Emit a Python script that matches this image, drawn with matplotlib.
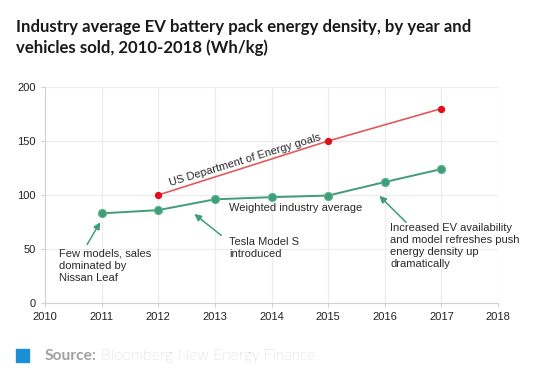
import matplotlib
matplotlib.use('Agg')
import matplotlib.pyplot as plt
from matplotlib.patches import Rectangle

# data
avg_years = [2011, 2012, 2013, 2014, 2015, 2016, 2017]
avg_vals = [83, 86, 96, 98, 99.5, 112, 124]
goal_years = [2012, 2015, 2017]
goal_vals = [100, 150, 180]
xticks = list(range(2010, 2019))
yticks = [0, 50, 100, 150, 200]

green = '#3f9d78'
red_line = '#e35a5a'
red_pt = '#e00f1a'
grid_c = '#ececec'

plt.rcParams['font.family'] = ['Liberation Sans', 'DejaVu Sans']

fig = plt.figure(figsize=(5.5, 3.85), dpi=100)
ax = fig.add_axes([0.0818, 0.213, 0.8237, 0.561])

ax.plot(goal_years, goal_vals, color=red_line, lw=1.2, zorder=3)
ax.scatter(goal_years, goal_vals, s=18, color=red_pt, zorder=4)
ax.plot(avg_years, avg_vals, color=green, lw=1.4, zorder=3)
ax.scatter(avg_years, avg_vals, s=34, color=green, edgecolor='#5fb594', lw=0.8, zorder=4)

ax.set_xlim(2010, 2018)
ax.set_ylim(0, 200)
ax.set_xticks(xticks)
ax.set_yticks(yticks)
ax.grid(True, color=grid_c, lw=0.8)
ax.set_axisbelow(True)
for s in ['top', 'right']:
    ax.spines[s].set_visible(False)
for s in ['left', 'bottom']:
    ax.spines[s].set_color('#d0d0d0')
ax.tick_params(colors='#d0d0d0', labelcolor='#222222', labelsize=8, length=3)

tc = '#2a2a2a'
ax.text(2012.22, 108, 'US Department of Energy goals', rotation=17, fontsize=8,
        color=tc, rotation_mode='anchor', ha='left', va='baseline')
ax.text(2013.25, 88, 'Weighted industry average', fontsize=8, color=tc, va='center')

arrow = dict(arrowstyle='-|>', color=green, lw=1.1, mutation_scale=10)
ax.text(2010.25, 50, 'Few models, sales\ndominated by\nNissan Leaf',
        fontsize=8, color=tc, va='top', ha='left', linespacing=1.25)
ax.annotate('', xy=(2011.0, 77), xytext=(2010.72, 52), arrowprops=arrow)
ax.text(2013.25, 61, 'Tesla Model S\nintroduced', fontsize=8, color=tc, va='top', linespacing=1.25)
ax.annotate('', xy=(2012.6, 84), xytext=(2013.15, 61), arrowprops=arrow)
ax.text(2016.1, 74, 'Increased EV availability\nand model refreshes push\nenergy density up\ndramatically',
        fontsize=8, color=tc, va='top', linespacing=1.25)
ax.annotate('', xy=(2015.87, 101), xytext=(2016.41, 73), arrowprops=arrow)

fig.text(16 / 550, 1 - 19 / 385,
         'Industry average EV battery pack energy density, by year and\nvehicles sold, 2010-2018 (Wh/kg)',
         fontsize=12.1, fontweight='bold', family=['Lato', 'DejaVu Sans'], color='#1a1a1a',
         va='top', linespacing=1.35)

fig.add_artist(Rectangle((16 / 550, 1 - 362 / 385), 13 / 550, 13 / 385,
                         transform=fig.transFigure, color='#1a8fd6'))
fig.text(45 / 550, 1 - 356 / 385, 'Source:', fontsize=11.2, fontweight='bold',
         family=['Lato', 'DejaVu Sans'], color='#a0a0a0', va='center')
fig.text(101 / 550, 1 - 356 / 385, 'Bloomberg New Energy Finance', fontsize=11.2,
         fontweight='light', family=['Lato', 'DejaVu Sans'], color='#aaaaaa', va='center')

fig.savefig('out.png', dpi=100)
